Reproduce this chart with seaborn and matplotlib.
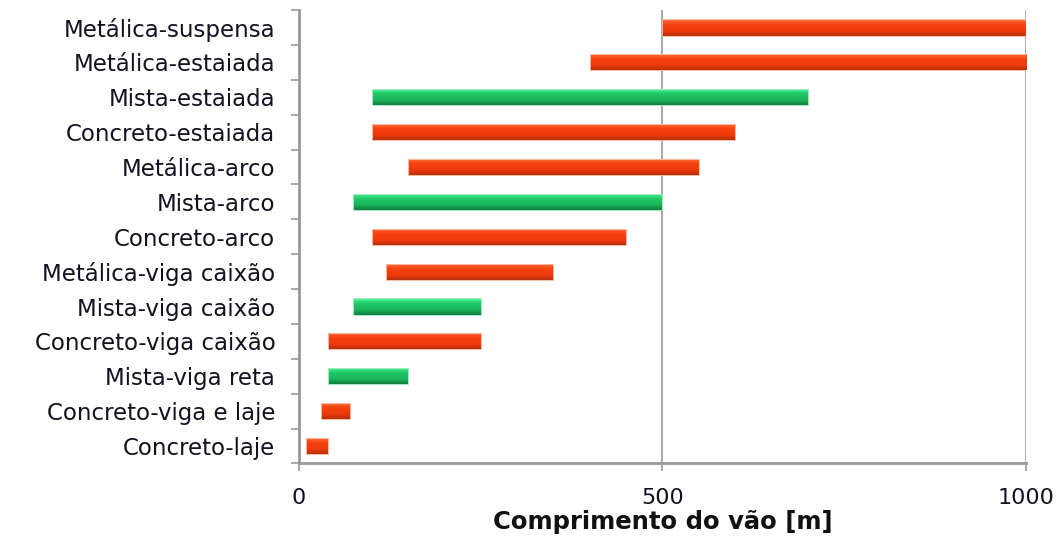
import matplotlib
matplotlib.use("Agg")
import matplotlib.pyplot as plt
from matplotlib.colors import LinearSegmentedColormap
import seaborn as sns
import numpy as np

# Span ranges (m) per bridge type
categories = [
    "Metálica-suspensa", "Metálica-estaiada", "Mista-estaiada", "Concreto-estaiada",
    "Metálica-arco", "Mista-arco", "Concreto-arco", "Metálica-viga caixão",
    "Mista-viga caixão", "Concreto-viga caixão", "Mista-viga reta",
    "Concreto-viga e laje", "Concreto-laje",
]
span_min = [500, 400, 100, 100, 150, 75, 100, 120, 75, 40, 40, 30, 10]
span_max = [1000, 1000, 700, 600, 550, 500, 450, 350, 250, 250, 150, 70, 40]
is_mixed = [False, False, True, False, False, True, False, False, True, False, True, False, False]

x_ticks = [0, 500, 1000]
x_label = "Comprimento do vão [m]"

sns.set_theme(style="white")
plt.rcParams["font.family"] = ["DejaVu Sans"]

fig = plt.figure(figsize=(10.64, 5.43), dpi=100)
ax = fig.add_axes([0.281, 0.1465, 0.683, 0.835])

# vertical shading for each family of bars (top -> bottom)
shades = {
    False: LinearSegmentedColormap.from_list(
        "steel", [(0.0, "#FF8A5C"), (0.12, "#FF6430"), (0.32, "#F5420F"),
                  (0.72, "#EE3A0B"), (0.9, "#CC320C"), (1.0, "#B0320F")]),
    True: LinearSegmentedColormap.from_list(
        "mixed", [(0.0, "#6AF5AA"), (0.12, "#3DEA8C"), (0.32, "#22C867"),
                  (0.72, "#1AB45A"), (0.9, "#139048"), (1.0, "#10803F")]),
}
edge = {False: "#FFB8A0", True: "#A8E8C4"}

y = np.arange(len(categories))
lo = np.array(span_min, dtype=float)
hi = np.array(span_max, dtype=float)
h = 0.46
grad = np.linspace(0, 1, 64).reshape(-1, 1)

bars = ax.barh(y, hi - lo, left=lo, height=h, color="none", linewidth=0, zorder=3)
for bar, m in zip(bars, is_mixed):
    x0, y0 = bar.get_x(), bar.get_y()
    w, hh = bar.get_width(), bar.get_height()
    im = ax.imshow(grad, cmap=shades[m], aspect="auto", interpolation="bilinear",
                   extent=(x0, x0 + w, y0 + hh, y0), origin="upper", zorder=3)
    im.set_clip_path(bar)
    ax.add_patch(plt.Rectangle((x0, y0), w, hh, fill=False, edgecolor=edge[m],
                               linewidth=0.7, zorder=4))

ax.set_xlim(0, 1000)
ax.set_ylim(len(categories) - 0.5, -0.5)
ax.set_aspect("auto")

ax.set_yticks(y)
ax.set_yticklabels(categories)
ax.set_yticks(np.arange(len(categories) + 1) - 0.5, minor=True)
ax.tick_params(axis="y", which="major", length=0, pad=17, labelsize=16.5, labelcolor="#111122")
ax.tick_params(axis="y", which="minor", left=True, length=6, width=1.2, color="#999999")

ax.set_xticks(x_ticks)
ax.set_xticklabels([str(t) for t in x_ticks])
ax.tick_params(axis="x", which="major", bottom=True, length=6, width=1.2, color="#999999",
               pad=12, labelsize=16, labelcolor="#111122")

for xv in x_ticks[1:]:
    ax.axvline(xv, color="#999999", linewidth=1.2, zorder=1)

for side in ["top", "right"]:
    ax.spines[side].set_visible(False)
for side in ["left", "bottom"]:
    ax.spines[side].set_visible(True)
    ax.spines[side].set_color("#999999")
    ax.spines[side].set_linewidth(2)

ax.set_xlabel(x_label, fontsize=17.5, fontweight="bold", color="#111111", labelpad=1)
ax.grid(False)

fig.savefig("out.png", dpi=100, facecolor="white")
